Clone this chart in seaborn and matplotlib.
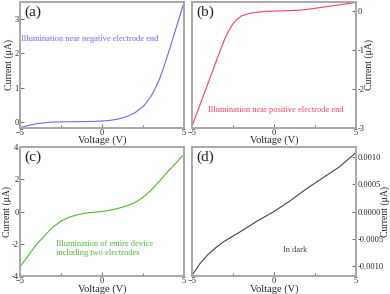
import numpy as np
import matplotlib
matplotlib.use('Agg')
import matplotlib.pyplot as plt
import seaborn as sns
from matplotlib.ticker import FormatStrFormatter, MultipleLocator

sns.set_style('ticks')
plt.rcParams['font.family'] = ['Liberation Serif', 'DejaVu Serif']

# (a) illumination near negative electrode end
volt_a = [-5, -4.5, -4, -3.5, -3, -2.5, -2, -1.5, -1, -0.5, 0, 0.5, 1, 1.5, 2,
          2.5, 2.75, 3, 3.25, 3.5, 3.75, 4, 4.25, 4.5, 4.75, 5]
curr_a = [-0.17, -0.1, -0.05, -0.02, 0.0, 0.005, 0.01, 0.01, 0.015, 0.02, 0.03,
          0.05, 0.09, 0.16, 0.27, 0.45, 0.59, 0.76, 0.99, 1.25, 1.58, 1.95, 2.33,
          2.72, 3.11, 3.5]

# (b) illumination near positive electrode end
volt_b = [-5, -4.75, -4.5, -4.25, -4, -3.75, -3.5, -3.25, -3, -2.75, -2.5, -2.25,
          -2, -1.5, -1, -0.5, 0, 0.5, 1, 1.5, 2, 2.5, 3, 3.5, 4, 4.5, 5]
curr_b = [-2.97, -2.68, -2.4, -2.12, -1.84, -1.55, -1.27, -0.99, -0.72, -0.5,
          -0.33, -0.21, -0.13, -0.06, -0.03, -0.01, 0.0, 0.005, 0.01, 0.02, 0.04,
          0.07, 0.1, 0.13, 0.16, 0.19, 0.22]

# (c) entire device
volt_c = [-5, -4.5, -4, -3.5, -3, -2.5, -2, -1.5, -1, -0.5, 0, 0.5, 1, 1.5, 2,
          2.5, 3, 3.5, 4, 4.5, 5]
curr_c = [-3.43, -2.75, -2.05, -1.5, -0.97, -0.6, -0.35, -0.2, -0.1, -0.05, 0.0,
          0.08, 0.2, 0.35, 0.55, 0.88, 1.33, 1.88, 2.47, 3.0, 3.55]

# (d) dark
volt_d = [-5, -4.5, -4, -3.5, -3, -2, -1, 0, 1, 2, 3, 4, 5]
curr_d = [-0.00117, -0.00095, -0.00078, -0.00065, -0.00054, -0.00036, -0.00017,
          0.0, 0.0002, 0.00042, 0.00062, 0.00082, 0.00108]

panels = [
    ('(a)', volt_a, curr_a, '#6a6aff', (-0.17, 3.5), [0, 1, 2, 3], 'left',
     'Illumination near negative electrode end', (0.005, 0.71)),
    ('(b)', volt_b, curr_b, '#ff3f60', (-3.0, 0.23), [-3, -2, -1, 0], 'right',
     'Illumination near positive electrode end', (0.1, 0.143)),
    ('(c)', volt_c, curr_c, '#4cb82e', (-4, 4), [-4, -2, 0, 2, 4], 'left',
     'Illumination of entire device\nincluding two electrodes', (0.22, 0.213)),
    ('(d)', volt_d, curr_d, '#444444', (-0.00118, 0.00118),
     [-0.001, -0.0005, 0, 0.0005, 0.001], 'right', 'In dark', (0.555, 0.2)),
]

positions = [
    [0.051, 0.565, 0.421, 0.428],
    [0.492, 0.565, 0.421, 0.428],
    [0.051, 0.061, 0.421, 0.439],
    [0.492, 0.061, 0.421, 0.439],
]

fig = plt.figure(figsize=(3.9, 2.94), dpi=100)
for (lab, vx, vy, col, ylim, yticks, side, note, npos), pos in zip(panels, positions):
    ax = fig.add_axes(pos)
    sns.lineplot(x=vx, y=vy, ax=ax, color=col, linewidth=0.8)
    ax.set_xlim(-5, 5)
    ax.set_ylim(*ylim)
    ax.set_xticks([-5, 0, 5])
    ax.xaxis.set_minor_locator(MultipleLocator(2.5))
    ax.set_yticks(yticks)
    if lab == '(d)':
        ax.yaxis.set_major_formatter(FormatStrFormatter('%.4f'))
    else:
        ax.yaxis.set_major_formatter(FormatStrFormatter('%g'))
    if side == 'right':
        ax.yaxis.tick_right()
        ax.yaxis.set_label_position('right')
    for sp in ax.spines.values():
        sp.set_color('#a8a8a8')
        sp.set_linewidth(1.4)
    ax.tick_params(axis='both', which='major', direction='in', length=3, width=0.6,
                   color='#555555', labelsize=6, pad=1)
    ax.tick_params(axis='x', which='minor', direction='in', length=2, width=0.6,
                   color='#555555')
    ax.set_xlabel('Voltage (V)', fontsize=7.5, labelpad=-1)
    ax.set_ylabel('Current (μA)', fontsize=7,
                  labelpad=-2 if lab == '(d)' else 0)
    ax.text(0.03, 0.97, lab, transform=ax.transAxes, fontsize=11,
            va='top', ha='left')
    ax.text(npos[0], npos[1], note, transform=ax.transAxes, fontsize=6,
            color=col, va='center', ha='left', linespacing=1.3)

fig.savefig('out.png', dpi=100)
